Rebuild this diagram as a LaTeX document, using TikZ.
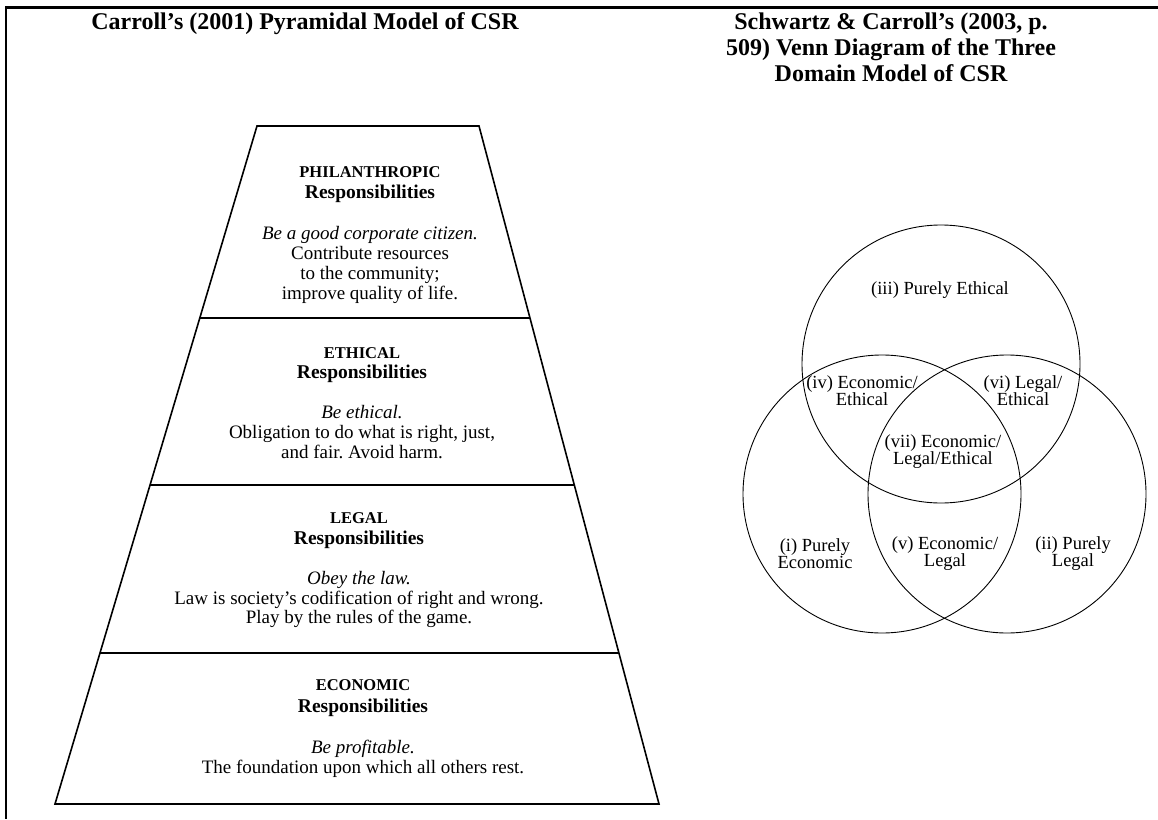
\documentclass[tikz,border=0pt]{standalone}
\usepackage{fontspec}
\setmainfont{Liberation Serif}
\frenchspacing
\begin{document}
\begin{tikzpicture}[x=1pt,y=-1pt,
  hdr/.style={font=\fontsize{24}{26}\selectfont\bfseries, anchor=base, inner sep=0},
  caps/.style={font=\fontsize{16.5}{18}\selectfont\bfseries, anchor=base, inner sep=0},
  resp/.style={font=\fontsize{19.5}{20}\selectfont\bfseries, anchor=base, inner sep=0},
  motto/.style={font=\fontsize{19}{20}\selectfont\itshape, anchor=base, inner sep=0},
  body/.style={font=\fontsize{19}{20}\selectfont, anchor=base, inner sep=0},
  venn/.style={font=\fontsize{18.5}{17}\selectfont, align=center, inner sep=0},
  tier/.style={line width=1.6pt, line join=miter},
  ring/.style={line width=0.9pt},
  rule/.style={line width=2.5pt},
  sidebar/.style={line width=1.5pt}]
\useasboundingbox (0,0) rectangle (1158,819);

% table rules
\coordinate (r0) at (5,7.5);
\coordinate (r1) at (1158,7.5);
\coordinate (s0) at (6,7.5);
\coordinate (s1) at (6,819);
\draw[rule] (r0) -- (r1);
\draw[sidebar] (s0) -- (s1);

% headers
\node[hdr] (hl) at (305,29) {Carroll's (2001) Pyramidal Model of CSR};
\node[hdr] (hr1) at (891,29) {Schwartz \& Carroll's (2003, p.};
\node[hdr] (hr2) at (891,55) {509) Venn Diagram of the Three};
\node[hdr] (hr3) at (891,81) {Domain Model of CSR};

% pyramid corners
\coordinate (L0) at (257,126);   \coordinate (R0) at (479,126);
\coordinate (L1) at (199.8,318); \coordinate (R1) at (530,318);
\coordinate (L2) at (150.1,485); \coordinate (R2) at (574.3,485);
\coordinate (L3) at (100,653);   \coordinate (R3) at (618.9,653);
\coordinate (L4) at (55,804);    \coordinate (R4) at (659,804);
\draw[tier] (L0) -- (R0) -- (R4) -- (L4) -- cycle;
\draw[tier] (L1) -- (R1);
\draw[tier] (L2) -- (R2);
\draw[tier] (L3) -- (R3);

% tier 1
\node[caps]  (p1) at (370,177.5) {PHILANTHROPIC};
\node[resp]  (p2) at (370,198) {Responsibilities};
\node[motto] (p3) at (370,239) {Be a good corporate citizen.};
\node[body]  (p4) at (370,259) {Contribute resources};
\node[body]  (p5) at (370,279) {to the community;};
\node[body]  (p6) at (370,299) {improve quality of life.};

% tier 2
\node[caps]  (e1) at (362,358.5) {ETHICAL};
\node[resp]  (e2) at (362,378) {Responsibilities};
\node[motto] (e3) at (362,418) {Be ethical.};
\node[body]  (e4) at (362,438) {Obligation to do what is right, just,};
\node[body]  (e5) at (362,458) {and fair. Avoid harm.};

% tier 3
\node[caps]  (g1) at (359,523.5) {LEGAL};
\node[resp]  (g2) at (359,544) {Responsibilities};
\node[motto] (g3) at (359,584) {Obey the law.};
\node[body]  (g4) at (359,604) {Law is society's codification of right and wrong.};
\node[body]  (g5) at (359,623) {Play by the rules of the game.};

% tier 4
\node[caps]  (c1) at (363,690.5) {ECONOMIC};
\node[resp]  (c2) at (363,712) {Responsibilities};
\node[motto] (c3) at (363,753) {Be profitable.};
\node[body]  (c4) at (363,773) {The foundation upon which all others rest.};

% venn
\node[draw, ring, circle, minimum size=278pt, inner sep=0] (eth) at (941,364) {};
\node[draw, ring, circle, minimum size=278pt, inner sep=0] (eco) at (882,494) {};
\node[draw, ring, circle, minimum size=278pt, inner sep=0] (leg) at (1007,494) {};

\node[venn] (v3) at (940,290) {(iii) Purely Ethical};
\node[venn] (v4) at (862,391) {(iv) Economic/\\Ethical};
\node[venn] (v6) at (1023,391) {(vi) Legal/\\Ethical};
\node[venn] (v7) at (943,452) {(vii) Economic/\\Legal/Ethical};
\node[venn] (v1) at (815,554) {(i) Purely\\Economic};
\node[venn] (v5) at (945,554) {(v) Economic/\\Legal};
\node[venn] (v2) at (1073,554) {(ii) Purely\\Legal};
\end{tikzpicture}
\end{document}
